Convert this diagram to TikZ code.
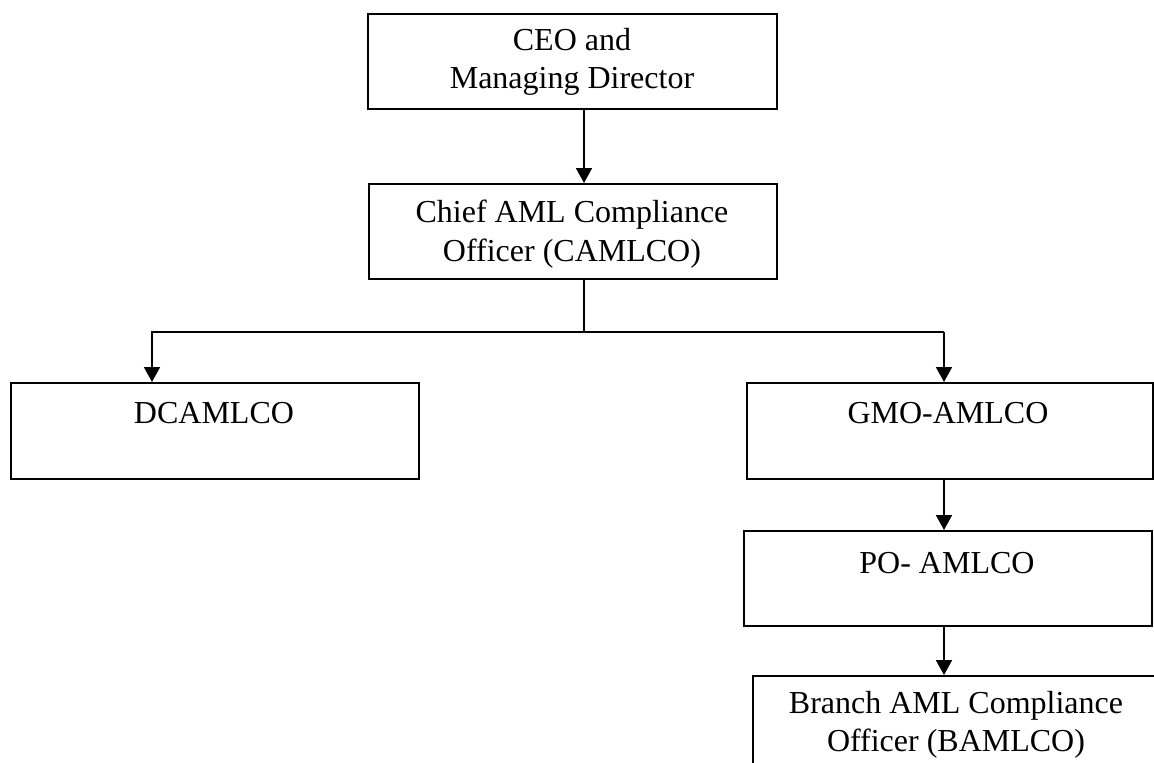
\documentclass[tikz,border=0pt]{standalone}
\usepackage{fontspec}
\setmainfont{Liberation Serif}
\usetikzlibrary{arrows.meta}
\begin{document}
\begin{tikzpicture}[x=1pt,y=-1pt,
  box/.style={draw=black,line width=1.8pt,inner sep=0pt,anchor=north west},
  lbl/.style={inner sep=0pt,align=center,font=\fontsize{32}{38.5}\selectfont},
  conn/.style={line width=1.8pt},
  arr/.style={line width=1.8pt,-{Triangle[length=15pt,width=16pt]}}]
\useasboundingbox (0,0) rectangle (1154,763);
\clip (0,0) rectangle (1154,763);
\fill[white] (0,0) rectangle (1154,763);
% boxes
\node[box,minimum width=409pt,minimum height=95pt] (ceo) at (367,13) {};
\node[box,minimum width=408pt,minimum height=95pt] (chief) at (368,183) {};
\node[box,minimum width=408pt,minimum height=96pt] (dcam) at (10,382) {};
\node[box,minimum width=406pt,minimum height=96pt] (gmo) at (746,382) {};
\node[box,minimum width=408pt,minimum height=95pt] (po) at (743,530) {};
\node[box,minimum width=440pt,minimum height=160pt] (branch) at (752,675) {};
% labels
\node[lbl] (tceo) at (572,62) {CEO and\\Managing Director};
\node[lbl] (tchief) at (572,234) {Chief AML Compliance\\Officer (CAMLCO)};
\node[lbl] (tdcam) at (214,413) {DCAMLCO};
\node[lbl] (tgmo) at (948,413) {GMO-AMLCO};
\node[lbl] (tpo) at (947,563) {PO- AMLCO};
\node[lbl] (tbranch) at (956,725) {Branch AML Compliance\\Officer (BAMLCO)};
% connector coordinates
\coordinate (xa) at (584,0);
\coordinate (xb) at (944,0);
\coordinate (xl) at (152,0);
\coordinate (bus) at (0,332);
\draw[arr] (ceo.south -| xa) -- (chief.north -| xa);
\draw[conn] (chief.south -| xa) -- (bus -| xa);
\draw[arr] (bus -| xb) -| (xl |- bus) -- (dcam.north -| xl);
\draw[arr] (bus -| xb) -- (gmo.north -| xb);
\draw[conn] (bus -| xl) -- (bus -| xb);
\draw[arr] (gmo.south -| xb) -- (po.north -| xb);
\draw[arr] (po.south -| xb) -- (branch.north -| xb);
\end{tikzpicture}
\end{document}
